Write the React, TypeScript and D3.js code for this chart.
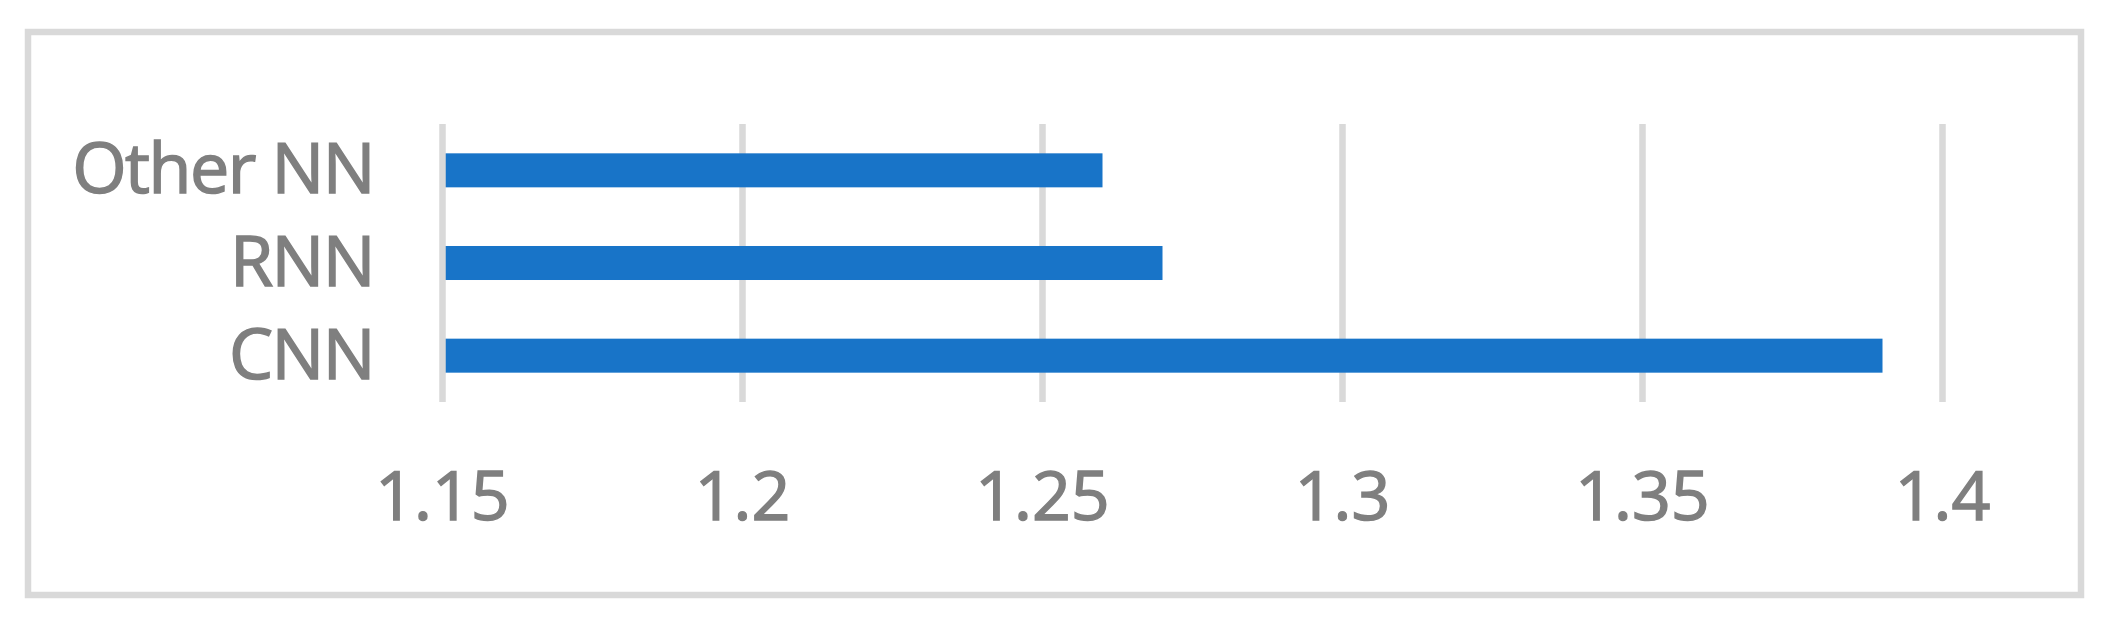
import React, { useEffect, useRef } from "react";
import * as d3 from "d3";

// categories top -> bottom as in the picture
const categories = ["Other NN", "RNN", "CNN"];
const values = [1.26, 1.27, 1.39];
const xTicks = [1.15, 1.2, 1.25, 1.3, 1.35, 1.4];
const xTickLabels = ["1.15", "1.2", "1.25", "1.3", "1.35", "1.4"];

const App = () => {
  const chartRef = useRef<SVGSVGElement | null>(null);

  useEffect(() => {
    const width = 2110;
    const height = 621;
    const plot = { left: 442.5, right: 1942.5, top: 124, bottom: 402 };
    const font = "'Open Sans', sans-serif";
    const textColor = "#7f7f7f";
    const gridColor = "#d9d9d9";

    const svg = d3.select(chartRef.current);
    svg.selectAll("*").remove();

    svg
      .append("rect")
      .attr("width", width)
      .attr("height", height)
      .attr("fill", "#fff");

    // chart area border
    svg
      .append("rect")
      .attr("x", 28)
      .attr("y", 32)
      .attr("width", 2053)
      .attr("height", 563)
      .attr("fill", "none")
      .attr("stroke", gridColor)
      .attr("stroke-width", 6.5);

    const x = d3.scaleLinear().domain([1.15, 1.4]).range([plot.left, plot.right]);

    const y = d3
      .scaleBand()
      .domain(categories)
      .range([plot.top, plot.bottom])
      .padding(0);

    const barH = y.bandwidth() * 0.367;

    // vertical gridlines (the first one is drawn later, over the bars)
    svg
      .selectAll("line.grid")
      .data(xTicks.slice(1))
      .enter()
      .append("line")
      .attr("class", "grid")
      .attr("x1", (d) => x(d))
      .attr("x2", (d) => x(d))
      .attr("y1", plot.top)
      .attr("y2", plot.bottom)
      .attr("stroke", gridColor)
      .attr("stroke-width", 6.5);

    svg
      .selectAll("rect.bar")
      .data(values)
      .enter()
      .append("rect")
      .attr("class", "bar")
      .attr("x", x(1.15))
      .attr("y", (d, i) => (y(categories[i]) as number) + y.bandwidth() / 2 - barH / 2)
      .attr("width", (d) => x(d) - x(1.15))
      .attr("height", barH)
      .attr("fill", "#1874c8");

    svg
      .append("line")
      .attr("x1", x(1.15))
      .attr("x2", x(1.15))
      .attr("y1", plot.top)
      .attr("y2", plot.bottom)
      .attr("stroke", gridColor)
      .attr("stroke-width", 6.5);

    // category labels
    svg
      .selectAll("text.cat")
      .data(categories)
      .enter()
      .append("text")
      .attr("class", "cat")
      .attr("x", 374)
      .attr("y", (d) => (y(d) as number) + y.bandwidth() / 2 + 23)
      .attr("text-anchor", "end")
      .style("font-family", font)
      .style("font-size", "70px")
      .style("letter-spacing", "-1.5px")
      .style("fill", textColor)
      .style("stroke", textColor)
      .style("stroke-width", 1.5)
      .text((d) => d);

    // x tick labels
    svg
      .selectAll("text.tick")
      .data(xTicks)
      .enter()
      .append("text")
      .attr("class", "tick")
      .attr("x", (d) => x(d))
      .attr("y", 520)
      .attr("text-anchor", "middle")
      .style("font-family", font)
      .style("font-size", "68px")
      .style("fill", textColor)
      .style("stroke", textColor)
      .style("stroke-width", 1.5)
      .text((d, i) => xTickLabels[i]);
  }, []);

  return (
    <svg
      ref={chartRef}
      width={2110}
      height={621}
      style={{ position: "absolute", left: 0, top: 0, display: "block" }}
    />
  );
};

export default App;
